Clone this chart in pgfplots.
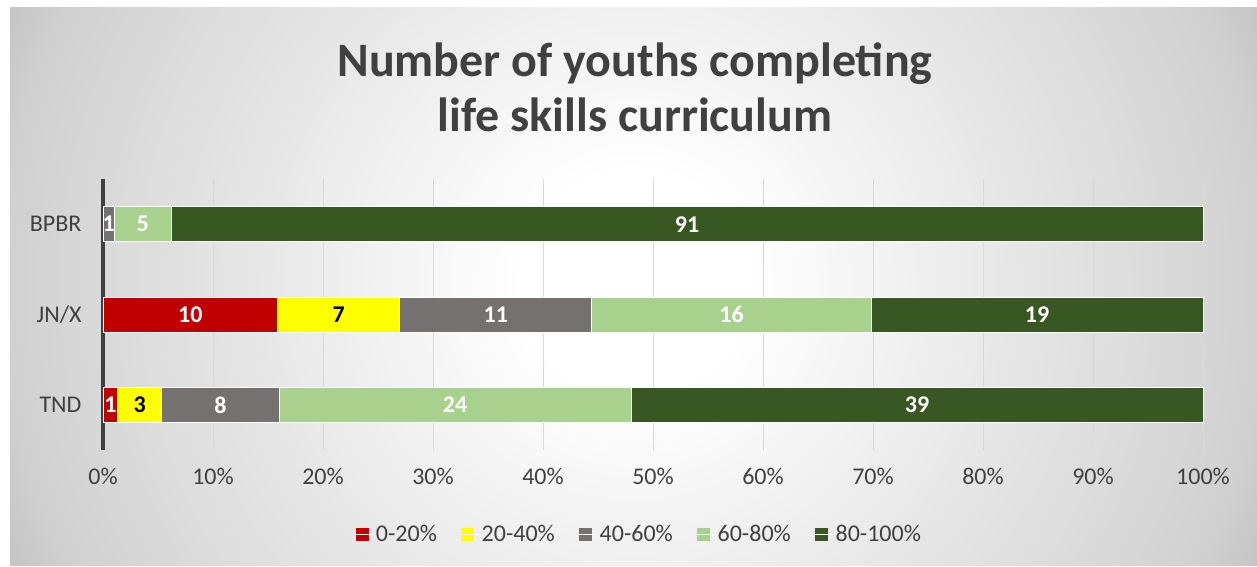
\documentclass[border=0pt]{standalone}
\usepackage{pgfplots}
\pgfplotsset{compat=1.18}
\usepackage{pgfplotstable}
\usepackage{fontspec}
\setmainfont{Carlito}
\definecolor{cRed}{HTML}{C00000}
\definecolor{cYel}{HTML}{FFFF00}
\definecolor{cGray}{HTML}{767171}
\definecolor{cLG}{HTML}{A9D18E}
\definecolor{cDG}{HTML}{385723}
\definecolor{txt}{HTML}{404040}
\definecolor{gridc}{HTML}{D9D9D9}
\definecolor{axc}{HTML}{404040}
\pgfdeclareradialshading{bgshade}{\pgfpoint{0bp}{0bp}}{color(0bp)=(white); color(4bp)=(white); color(10bp)=(black!6); color(22.3bp)=(black!18); color(24.5bp)=(black!23); color(50bp)=(black!23)}

\pgfplotstableread{
y pct n
0 1.3333 1
1 15.8730 10
2 0 {}
}\sA
\pgfplotstableread{
y pct n
0 4.0000 3
1 11.1111 7
2 0 {}
}\sB
\pgfplotstableread{
y pct n
0 10.6667 8
1 17.4603 11
2 1.0309 1
}\sC
\pgfplotstableread{
y pct n
0 32.0000 24
1 25.3968 16
2 5.1546 5
}\sD
\pgfplotstableread{
y pct n
0 52.0000 39
1 30.1587 19
2 93.8144 91
}\sE

\pgfplotsset{
  lbl/.style={
    draw=white, line width=0.8pt,
    point meta=explicit symbolic,
    nodes near coords,
    every node near coord/.append style={#1, anchor=center, inner sep=0pt,
      font=\bfseries\fontsize{24}{29}\selectfont},
  }
}

\begin{document}
\begin{tikzpicture}
\useasboundingbox (0pt,0pt) rectangle (1257pt,566pt);
\fill[white] (0pt,0pt) rectangle (1257pt,566pt);
\begin{scope}
\clip (10pt,1pt) rectangle (1257pt,558pt);
\shade[shading=bgshade] (-66pt,-417pt) rectangle (1334pt,983pt);
\end{scope}
\node[anchor=base, font=\bfseries\fontsize{48}{56}\selectfont, text=txt] at (635pt,489pt) {Number of youths completing};
\node[anchor=base, font=\bfseries\fontsize{48}{56}\selectfont, text=txt] at (635pt,434pt) {life skills curriculum};
\begin{axis}[
  at={(103pt,116pt)}, anchor=south west,
  scale only axis, width=1100pt, height=271pt,
  clip=false,
  xbar stacked, bar width=35pt,
  xmin=0, xmax=100, ymin=-0.5, ymax=2.5,
  xtick={0,10,...,100},
  xticklabel={\pgfmathprintnumber{\tick}\%},
  ytick={0,1,2}, yticklabels={TND,JN/X,BPBR},
  major tick length=0pt,
  xmajorgrids, major grid style={gridc, line width=1pt},
  axis line style={draw=none},
  /pgf/number format/assume math mode=true,
  tick label style={font=\fontsize{24}{29}\selectfont, text=txt},
  xticklabel style={yshift=-15pt},
  yticklabel style={xshift=-18pt},
  legend columns=5,
  legend image code/.code={\fill[#1,draw=none] (0pt,-6.5pt) rectangle (13pt,6.5pt); \path (0pt,0pt) -- (18pt,0pt);},
  legend style={at={(axis description cs:0.4873,-0.31)}, anchor=center,
    draw=none, fill=none, font=\fontsize{24}{29}\selectfont, text=txt,
    /tikz/every even column/.append style={column sep=22pt}},
]
\addplot[fill=cRed, lbl=white] table[x=pct, y=y, meta=n]{\sA};
\addplot[fill=cYel, lbl=black] table[x=pct, y=y, meta=n]{\sB};
\addplot[fill=cGray, lbl=white] table[x=pct, y=y, meta=n]{\sC};
\addplot[fill=cLG, lbl=white] table[x=pct, y=y, meta=n]{\sD};
\addplot[fill=cDG, lbl=white] table[x=pct, y=y, meta=n]{\sE};
\legend{0-20\%, 20-40\%, 40-60\%, 60-80\%, 80-100\%}
\draw[axc, line width=4pt] (axis cs:0,-0.5) -- (axis cs:0,2.5);
\end{axis}
\end{tikzpicture}
\end{document}
